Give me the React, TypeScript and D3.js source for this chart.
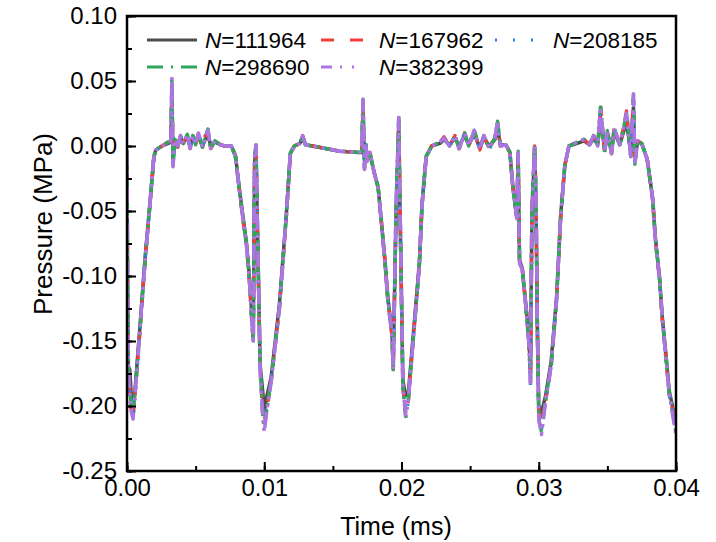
import { useEffect, useRef } from 'react';
import * as d3 from 'd3';

// time axis shared by all mesh runs (ms)
const timeMs = [
  0.0000, 0.00004, 0.0001, 0.0002, 0.00033, 0.00044, 0.00058, 0.00095, 0.0013, 0.00167,
  0.00196, 0.0021, 0.00255, 0.0030, 0.0032, 0.00327, 0.00335, 0.0035, 0.0037, 0.0039,
  0.0041, 0.0044, 0.0046, 0.0048, 0.0050, 0.0052, 0.0055, 0.0057, 0.0059, 0.0061,
  0.0064, 0.0068, 0.0071, 0.0076, 0.0079, 0.0082, 0.0085, 0.0087, 0.0089, 0.0091,
  0.0092, 0.0093, 0.0094, 0.0095, 0.0097, 0.0099, 0.0100, 0.0102, 0.0105, 0.0111,
  0.0116, 0.0119, 0.0122, 0.0126, 0.0128, 0.0130, 0.0140, 0.0155, 0.0169, 0.0171,
  0.0172, 0.0173, 0.0174, 0.0175, 0.0177, 0.0180, 0.0183, 0.0185, 0.0188, 0.0190,
  0.0193, 0.0194, 0.0196, 0.0198, 0.0199, 0.0201, 0.0203, 0.0205, 0.0208, 0.0213,
  0.0215, 0.0217, 0.0218, 0.0222, 0.0228, 0.0231, 0.0235, 0.0239, 0.0242, 0.0246,
  0.0249, 0.0253, 0.0257, 0.0260, 0.0264, 0.0268, 0.0270, 0.0272, 0.0276, 0.0279,
  0.0281, 0.0284, 0.0285, 0.0286, 0.0288, 0.0291, 0.0293, 0.0294, 0.0295, 0.0297,
  0.0298, 0.0299, 0.0300, 0.0302, 0.0305, 0.0309, 0.0313, 0.0316, 0.0319, 0.0322,
  0.0328, 0.0333, 0.0337, 0.0340, 0.0343, 0.0345, 0.0348, 0.0350, 0.0353, 0.0355,
  0.0359, 0.0361, 0.0364, 0.0367, 0.0369, 0.0370, 0.0372, 0.0375, 0.0379, 0.0383,
  0.0385, 0.0388, 0.0390, 0.0393, 0.0395, 0.0398, 0.0400,
];

// pressure (MPa) per mesh size
const p111964 = [
  -0.003,-0.100,-0.170,-0.172,-0.195,-0.200,-0.188,-0.138,-0.088,-0.044,
  -0.008,-0.003,0.000,0.002,0.003,0.040,-0.010,0.004,0.001,0.006,
  0.002,0.007,0.000,0.006,0.002,0.007,0.000,0.005,0.009,0.000,
  0.003,0.001,0.000,0.000,-0.007,-0.034,-0.058,-0.074,-0.098,-0.130,
  -0.145,-0.012,-0.002,-0.060,-0.168,-0.190,-0.205,-0.192,-0.178,-0.122,
  -0.054,-0.006,0.000,0.002,0.006,0.001,-0.001,-0.004,-0.005,-0.005,
  0.025,-0.012,0.001,-0.010,-0.006,-0.020,-0.032,-0.054,-0.088,-0.116,
  -0.143,-0.165,-0.055,0.015,-0.055,-0.180,-0.192,-0.190,-0.152,-0.090,
  -0.044,-0.020,-0.008,0.000,0.002,0.005,0.001,0.006,0.000,0.008,
  0.001,0.009,-0.001,0.006,0.000,0.005,0.014,0.001,0.001,-0.005,
  -0.030,-0.055,-0.010,-0.088,-0.094,-0.126,-0.152,-0.175,-0.055,-0.002,
  -0.045,-0.140,-0.200,-0.205,-0.192,-0.166,-0.116,-0.053,-0.015,0.000,
  0.002,0.004,0.001,0.006,0.001,0.022,-0.003,0.009,-0.004,0.011,
  0.001,0.008,0.018,-0.005,0.030,-0.010,0.003,0.002,-0.010,-0.040,
  -0.071,-0.101,-0.131,-0.164,-0.188,-0.203,-0.212,
];
const p167962 = [
  -0.003,-0.105,-0.175,-0.190,-0.205,-0.208,-0.192,-0.142,-0.091,-0.046,
  -0.009,-0.003,0.000,0.003,0.004,0.048,-0.013,0.005,-0.001,0.008,
  0.002,0.009,-0.002,0.008,0.000,0.010,-0.001,0.008,0.011,-0.002,
  0.004,0.001,0.000,0.000,-0.008,-0.035,-0.061,-0.076,-0.101,-0.136,
  -0.150,-0.010,0.000,-0.062,-0.172,-0.208,-0.212,-0.201,-0.181,-0.126,
  -0.056,-0.005,0.000,0.002,0.008,0.001,-0.001,-0.004,-0.005,-0.004,
  0.034,-0.017,0.002,-0.012,-0.005,-0.020,-0.032,-0.055,-0.090,-0.118,
  -0.146,-0.172,-0.048,0.020,-0.050,-0.186,-0.205,-0.196,-0.156,-0.092,
  -0.045,-0.020,-0.008,0.000,0.003,0.007,0.000,0.008,-0.002,0.010,
  0.000,0.012,-0.003,0.008,-0.002,0.006,0.018,0.000,0.001,-0.005,
  -0.030,-0.056,-0.006,-0.090,-0.095,-0.128,-0.154,-0.182,-0.050,0.000,
  -0.040,-0.140,-0.205,-0.212,-0.196,-0.170,-0.118,-0.054,-0.015,0.000,
  0.003,0.005,0.001,0.008,0.000,0.031,-0.005,0.012,-0.006,0.014,
  0.001,0.010,0.027,-0.008,0.036,-0.013,0.004,0.002,-0.010,-0.042,
  -0.073,-0.103,-0.134,-0.167,-0.191,-0.205,-0.212,
];
const p208185 = [
  -0.003,-0.102,-0.172,-0.188,-0.203,-0.210,-0.193,-0.141,-0.090,-0.045,
  -0.008,-0.003,0.000,0.003,0.004,0.050,-0.014,0.005,0.000,0.008,
  0.002,0.009,-0.002,0.008,0.001,0.010,-0.001,0.007,0.012,-0.002,
  0.004,0.001,0.000,0.000,-0.008,-0.035,-0.060,-0.075,-0.100,-0.135,
  -0.150,-0.010,0.000,-0.060,-0.170,-0.206,-0.214,-0.200,-0.180,-0.125,
  -0.055,-0.005,0.000,0.002,0.008,0.001,-0.001,-0.004,-0.005,-0.004,
  0.035,-0.018,0.002,-0.012,-0.005,-0.020,-0.032,-0.055,-0.090,-0.118,
  -0.145,-0.172,-0.050,0.022,-0.050,-0.185,-0.210,-0.195,-0.156,-0.092,
  -0.045,-0.020,-0.008,0.000,0.003,0.006,0.000,0.008,-0.002,0.010,
  0.000,0.012,-0.003,0.008,-0.002,0.006,0.019,0.000,0.001,-0.005,
  -0.030,-0.056,-0.005,-0.090,-0.095,-0.128,-0.154,-0.185,-0.050,0.000,
  -0.040,-0.140,-0.208,-0.218,-0.195,-0.169,-0.118,-0.054,-0.015,0.000,
  0.003,0.005,0.001,0.008,0.000,0.030,-0.005,0.012,-0.006,0.014,
  0.001,0.010,0.025,-0.008,0.040,-0.014,0.004,0.002,-0.010,-0.041,
  -0.072,-0.102,-0.133,-0.166,-0.190,-0.208,-0.216,
];
const p298690 = [
  -0.003,-0.100,-0.170,-0.186,-0.202,-0.206,-0.190,-0.140,-0.090,-0.045,
  -0.008,-0.003,0.000,0.003,0.004,0.052,-0.015,0.005,0.000,0.008,
  0.002,0.009,-0.002,0.008,0.001,0.010,-0.001,0.007,0.013,-0.002,
  0.004,0.001,0.000,0.000,-0.008,-0.035,-0.060,-0.075,-0.100,-0.135,
  -0.150,-0.008,0.001,-0.058,-0.170,-0.208,-0.216,-0.202,-0.180,-0.125,
  -0.055,-0.005,0.000,0.002,0.008,0.001,-0.001,-0.004,-0.005,-0.004,
  0.036,-0.018,0.002,-0.012,-0.005,-0.020,-0.032,-0.055,-0.090,-0.118,
  -0.145,-0.172,-0.050,0.022,-0.050,-0.185,-0.208,-0.195,-0.156,-0.092,
  -0.045,-0.020,-0.008,0.000,0.003,0.006,0.000,0.008,-0.002,0.010,
  0.000,0.012,-0.003,0.008,-0.002,0.006,0.019,0.000,0.001,-0.005,
  -0.030,-0.056,-0.004,-0.090,-0.095,-0.128,-0.154,-0.182,-0.048,0.001,
  -0.040,-0.140,-0.210,-0.220,-0.195,-0.169,-0.118,-0.054,-0.015,0.000,
  0.003,0.005,0.001,0.008,0.000,0.030,-0.005,0.012,-0.006,0.014,
  0.001,0.010,0.025,-0.008,0.040,-0.014,0.004,0.002,-0.010,-0.041,
  -0.072,-0.102,-0.133,-0.166,-0.190,-0.208,-0.220,
];
const p382399 = [
  -0.003,-0.100,-0.170,-0.190,-0.205,-0.210,-0.192,-0.140,-0.090,-0.045,
  -0.008,-0.003,0.000,0.003,0.004,0.053,-0.016,0.005,0.000,0.008,
  0.002,0.009,-0.002,0.008,0.001,0.010,-0.001,0.007,0.012,-0.002,
  0.004,0.001,0.000,0.000,-0.008,-0.035,-0.060,-0.075,-0.100,-0.135,
  -0.152,-0.008,0.001,-0.060,-0.172,-0.210,-0.220,-0.203,-0.182,-0.125,
  -0.055,-0.005,0.000,0.002,0.008,0.001,-0.001,-0.004,-0.005,-0.004,
  0.036,-0.018,0.002,-0.012,-0.005,-0.020,-0.032,-0.055,-0.090,-0.118,
  -0.145,-0.172,-0.050,0.022,-0.050,-0.185,-0.207,-0.195,-0.156,-0.092,
  -0.045,-0.020,-0.008,0.000,0.003,0.006,0.000,0.008,-0.002,0.010,
  0.000,0.012,-0.003,0.008,-0.002,0.006,0.019,0.000,0.001,-0.005,
  -0.030,-0.056,-0.005,-0.090,-0.095,-0.128,-0.154,-0.182,-0.050,0.000,
  -0.040,-0.140,-0.210,-0.222,-0.196,-0.169,-0.118,-0.054,-0.015,0.000,
  0.003,0.005,0.001,0.008,0.000,0.030,-0.005,0.012,-0.006,0.014,
  0.001,0.010,0.025,-0.008,0.040,-0.014,0.004,0.002,-0.010,-0.041,
  -0.072,-0.102,-0.133,-0.166,-0.190,-0.210,-0.222,
];

const meshLabels = ['111964', '167962', '208185', '298690', '382399'];
const meshValues = [p111964, p167962, p208185, p298690, p382399];
const meshColors = ['#4d4d4d', '#f23b3b', '#2f7fe6', '#2fa65c', '#ad75e3'];
const legendDashes = ['none', '13,16', '2,16', '16,8,2,8', '11,8,2,10,2,10'];
const plotDashes = ['none', '10,8', '2,10', '14,5,3,5', '16,5,3,5,3,5'];

const xTicks = [0, 0.01, 0.02, 0.03, 0.04];
const yTicks = [0.10, 0.05, 0.00, -0.05, -0.10, -0.15, -0.20, -0.25];

const fmt = (v: number) => v.toFixed(2).replace('-0.00', '0.00');

export default function App() {
  const ref = useRef<SVGSVGElement>(null);

  useEffect(() => {
    document.body.style.margin = '0';
    const svg = d3.select(ref.current);
    svg.selectAll('*').remove();

    const W = 716, H = 542;
    const m = { left: 127, right: 40, top: 16, bottom: 71 };
    const w = W - m.left - m.right;
    const h = H - m.top - m.bottom;
    const font = 'Arial, "Liberation Sans", sans-serif';

    const x = d3.scaleLinear().domain([0, 0.04]).range([0, w]);
    const y = d3.scaleLinear().domain([-0.25, 0.10]).range([h, 0]);

    const g = svg.append('g').attr('transform', `translate(${m.left},${m.top})`);

    g.append('clipPath').attr('id', 'plot-clip')
      .append('rect').attr('width', w).attr('height', h);

    const line = d3.line<[number, number]>().x(d => x(d[0])).y(d => y(d[1]));

    const lines = g.append('g').attr('clip-path', 'url(#plot-clip)');
    meshValues.forEach((vals, i) => {
      const pts: [number, number][] = timeMs
        .map((t, k) => [t, vals[k]] as [number, number])
        .filter(d => d[1] !== undefined);
      lines.append('path').datum(pts)
        .attr('d', line)
        .attr('fill', 'none')
        .attr('stroke', meshColors[i])
        .attr('stroke-width', 3.5)
        .attr('stroke-linejoin', 'round')
        .attr('stroke-dasharray', plotDashes[i]);
    });

    // bottom axis, inward ticks
    const xMinor = d3.range(0, 0.0401, 0.005);
    g.append('g').attr('transform', `translate(0,${h})`)
      .call(d3.axisBottom(x).tickValues(xMinor).tickSize(-5).tickFormat(() => ''))
      .call(a => a.select('.domain').remove())
      .call(a => a.selectAll('.tick line').attr('stroke', '#000').attr('stroke-width', 2));
    g.append('g').attr('transform', `translate(0,${h})`)
      .call(d3.axisBottom(x).tickValues(xTicks).tickSize(-9).tickPadding(8).tickFormat(d => fmt(+d)))
      .call(a => a.select('.domain').remove())
      .call(a => a.selectAll('.tick line').attr('stroke', '#000').attr('stroke-width', 2))
      .selectAll('text').attr('fill', '#000').style('font-family', font).style('font-size', '24px');

    // left axis, inward ticks
    const yMinor = d3.range(-0.25, 0.1001, 0.025);
    g.append('g')
      .call(d3.axisLeft(y).tickValues(yMinor).tickSize(-5).tickFormat(() => ''))
      .call(a => a.select('.domain').remove())
      .call(a => a.selectAll('.tick line').attr('stroke', '#000').attr('stroke-width', 2));
    g.append('g')
      .call(d3.axisLeft(y).tickValues(yTicks).tickSize(-9).tickPadding(10).tickFormat(d => fmt(+d)))
      .call(a => a.select('.domain').remove())
      .call(a => a.selectAll('.tick line').attr('stroke', '#000').attr('stroke-width', 2))
      .selectAll('text').attr('fill', '#000').style('font-family', font).style('font-size', '24px');

    // frame
    g.append('rect').attr('width', w).attr('height', h)
      .attr('fill', 'none').attr('stroke', '#000').attr('stroke-width', 2.5);

    // axis titles
    svg.append('text').attr('x', 396).attr('y', 535)
      .attr('text-anchor', 'middle').style('font-family', font).style('font-size', '25px')
      .text('Time (ms)');
    svg.append('text').attr('transform', `translate(52,224) rotate(-90)`)
      .attr('text-anchor', 'middle').style('font-family', font).style('font-size', '26px')
      .text('Pressure (MPa)');

    // legend
    const legendPos = [
      { lx: 147, ty: 40 }, { lx: 321, ty: 40 }, { lx: 495, ty: 40 },
      { lx: 147, ty: 67 }, { lx: 321, ty: 67 },
    ];
    meshLabels.forEach((lab, i) => {
      const p = legendPos[i];
      const len = i === 0 || i === 3 ? 50 : i === 2 ? 38 : 42;
      svg.append('line')
        .attr('x1', p.lx).attr('x2', p.lx + len).attr('y1', p.ty).attr('y2', p.ty)
        .attr('stroke', meshColors[i]).attr('stroke-width', 3)
        .attr('stroke-dasharray', legendDashes[i]);
      const tx = i === 0 || i === 3 ? 205 : i === 2 ? 553 : 379;
      const t = svg.append('text').attr('x', tx).attr('y', p.ty + 8)
        .style('font-family', font).style('font-size', '22.5px');
      t.append('tspan').style('font-style', 'italic').text('N');
      t.append('tspan').text('=' + lab);
    });
  }, []);

  return <svg ref={ref} width={716} height={542} style={{ display: 'block', background: '#fff' }} />;
}
